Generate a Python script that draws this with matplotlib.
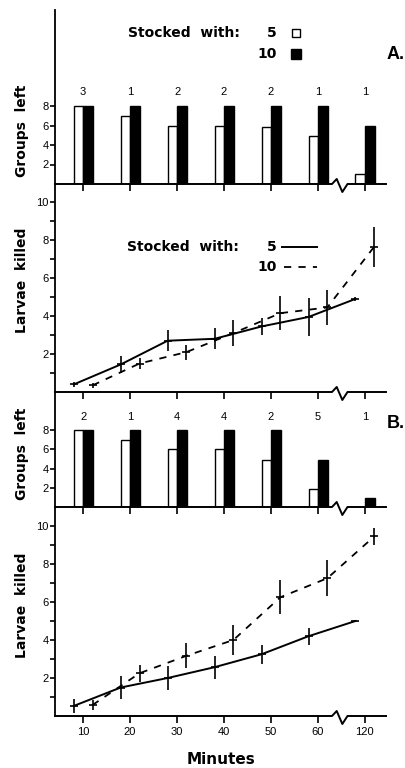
import matplotlib
matplotlib.use('Agg')
import matplotlib.pyplot as plt

plt.rcParams['font.family'] = ['Liberation Sans', 'DejaVu Sans']
LABEL_FONT = dict(family='DejaVu Sans', fontweight='bold', fontsize=10)

# x axis (minutes, broken between 60 and 120)
tick_minutes = [10, 20, 30, 40, 50, 60, 120]
tick_labels = ['10', '20', '30', '40', '50', '60', '120']

# groups left (bars), A and B
groups_a_5 = [8, 7, 6, 6, 5.85, 4.9, 1]
groups_a_10 = [8, 8, 8, 8, 8, 8, 5.9]
count_a = [3, 1, 2, 2, 2, 1, 1]
groups_b_5 = [8, 7, 6, 6, 4.9, 1.9, 0]
groups_b_10 = [8, 8, 8, 8, 8, 4.9, 0.9]
count_b = [2, 1, 4, 4, 2, 5, 1]

# larvae killed (lines)
minutes_5 = [8, 18, 28, 38, 48, 58, 118]
minutes_10 = [12, 22, 32, 42, 52, 62, 122]
killed_a_5 = [0.4, 1.45, 2.7, 2.8, 3.45, 3.95, 4.9]
err_a_5 = [0.15, 0.45, 0.55, 0.55, 0.45, 1.0, 0.1]
killed_a_10 = [0.35, 1.5, 2.1, 3.1, 4.15, 4.45, 7.65]
err_a_10 = [0.15, 0.3, 0.4, 0.7, 0.9, 0.9, 1.05]
killed_b_5 = [0.53, 1.5, 2.0, 2.57, 3.25, 4.2, 5.0]
err_b_5 = [0.35, 0.6, 0.65, 0.6, 0.5, 0.45, 0.05]
killed_b_10 = [0.58, 2.25, 3.17, 4.0, 6.25, 7.25, 9.45]
err_b_10 = [0.25, 0.45, 0.65, 0.8, 0.9, 0.95, 0.45]


def pos(m):
    # minutes -> axis position, 10 min per unit, 120 sits right after 60
    if m < 90:
        return m / 10
    return 7 + (m - 120) / 10


W, H = 406, 768
fig = plt.figure(figsize=(W / 100, H / 100), dpi=100)
X0, X1 = 55, 386
XLIM = (0.40, 7.45)


def make_ax(top, bottom, ymax):
    ax = fig.add_axes([X0 / W, (H - bottom) / H, (X1 - X0) / W, (bottom - top) / H])
    ax.set_facecolor('none')
    ax.set_xlim(*XLIM)
    ax.set_ylim(0, ymax)
    for s in ['top', 'right', 'bottom']:
        ax.spines[s].set_visible(False)
    ax.spines['left'].set_linewidth(1.3)
    ax.set_xticks([pos(m) for m in tick_minutes])
    ax.tick_params(axis='x', direction='out', length=5, width=1.2, labelbottom=False)
    ax.tick_params(axis='y', direction='out', length=3.5, width=1.2, labelsize=8, pad=1)
    ax.tick_params(axis='y', which='minor', direction='out', length=3.5, width=1.2)
    # baseline with break mark
    hpx = bottom - top
    up, dn = 5 / hpx, -8 / hpx
    bx = [XLIM[0], 6.30, 6.40, 6.52, 6.63, XLIM[1]]
    by = [0, 0, up, dn, 0, 0]
    ax.plot(bx, by, color='black', lw=1.4, transform=ax.get_xaxis_transform(),
            clip_on=False, zorder=5)
    return ax


def bars(ax, g5, g10, counts):
    xs = [pos(m) for m in tick_minutes]
    ax.bar([x - 0.1 for x in xs], g5, width=0.2, color='white', edgecolor='black', lw=1)
    ax.bar([x + 0.11 for x in xs], g10, width=0.22, color='black', edgecolor='black', lw=1)
    for x, c in zip(xs, counts):
        ax.text(x, 9.4, str(c), ha='center', va='center', fontsize=8)
    ax.set_yticks([2, 4, 6, 8])


def lines(ax, k5, e5, k10, e10):
    x5 = [pos(m) for m in minutes_5]
    x10 = [pos(m) for m in minutes_10]
    ax.plot(x5, k5, color='black', lw=1.4)
    ax.errorbar(x5, k5, yerr=e5, fmt='none', ecolor='black', elinewidth=1.2)
    ax.plot(x5, k5, ls='none', marker='_', ms=6, mew=1.2, color='black')
    ax.plot(x10, k10, color='black', lw=1.3, dashes=(4, 4))
    ax.errorbar(x10, k10, yerr=e10, fmt='none', ecolor='black', elinewidth=1.2)
    ax.plot(x10, k10, ls='none', marker='_', ms=6, mew=1.2, color='black')
    ax.set_yticks([2, 4, 6, 8, 10])
    ax.set_yticks([1, 3, 5, 7, 9], minor=True)


# panel A
ax_ga = make_ax(10, 184, 174 / 9.75)
bars(ax_ga, groups_a_5, groups_a_10, count_a)
ax_ga.text(1.96, 15.5, 'Stocked  with:', va='center', ha='left', **LABEL_FONT)
ax_ga.text(5.12, 15.5, '5', va='center', ha='right', **LABEL_FONT)
ax_ga.text(5.12, 13.3, '10', va='center', ha='right', **LABEL_FONT)
ax_ga.plot([5.53], [15.5], marker='s', ms=6, mfc='white', mec='black', mew=1, clip_on=False)
ax_ga.plot([5.53], [13.3], marker='s', ms=7, mfc='black', mec='black', clip_on=False)
ax_ga.text(7.66, 13.3, 'A.', fontsize=13, fontweight='bold', va='center', ha='center')

ax_la = make_ax(184, 392, 208 / 19)
lines(ax_la, killed_a_5, err_a_5, killed_a_10, err_a_10)
ax_la.text(1.94, 7.63, 'Stocked  with:', va='center', ha='left', **LABEL_FONT)
ax_la.text(5.12, 7.63, '5', va='center', ha='right', **LABEL_FONT)
ax_la.text(5.12, 6.58, '10', va='center', ha='right', **LABEL_FONT)
ax_la.plot([5.24, 5.98], [7.63, 7.63], color='black', lw=1.4)
ax_la.plot([5.28, 5.98], [6.58, 6.58], color='black', lw=1.3, dashes=(4, 4))

# panel B
ax_gb = make_ax(392, 507, 115 / 9.6)
bars(ax_gb, groups_b_5, groups_b_10, count_b)
ax_gb.text(7.66, 8.75, 'B.', fontsize=13, fontweight='bold', va='center', ha='center')

ax_lb = make_ax(507, 716, 209 / 19)
lines(ax_lb, killed_b_5, err_b_5, killed_b_10, err_b_10)
ax_lb.set_xticklabels(tick_labels)
ax_lb.tick_params(axis='x', labelbottom=True, labelsize=8, pad=3)

for txt, yc in [('Groups  left', 131), ('Larvae  killed', 280),
                ('Groups  left', 454), ('Larvae  killed', 605)]:
    fig.text(22 / W, (H - yc) / H, txt, rotation=90, ha='center', va='center', **LABEL_FONT)
fig.text(221 / W, (H - 759) / H, 'Minutes', ha='center', va='center',
         family='DejaVu Sans', fontweight='bold', fontsize=11)

fig.savefig('out.png', dpi=100)
